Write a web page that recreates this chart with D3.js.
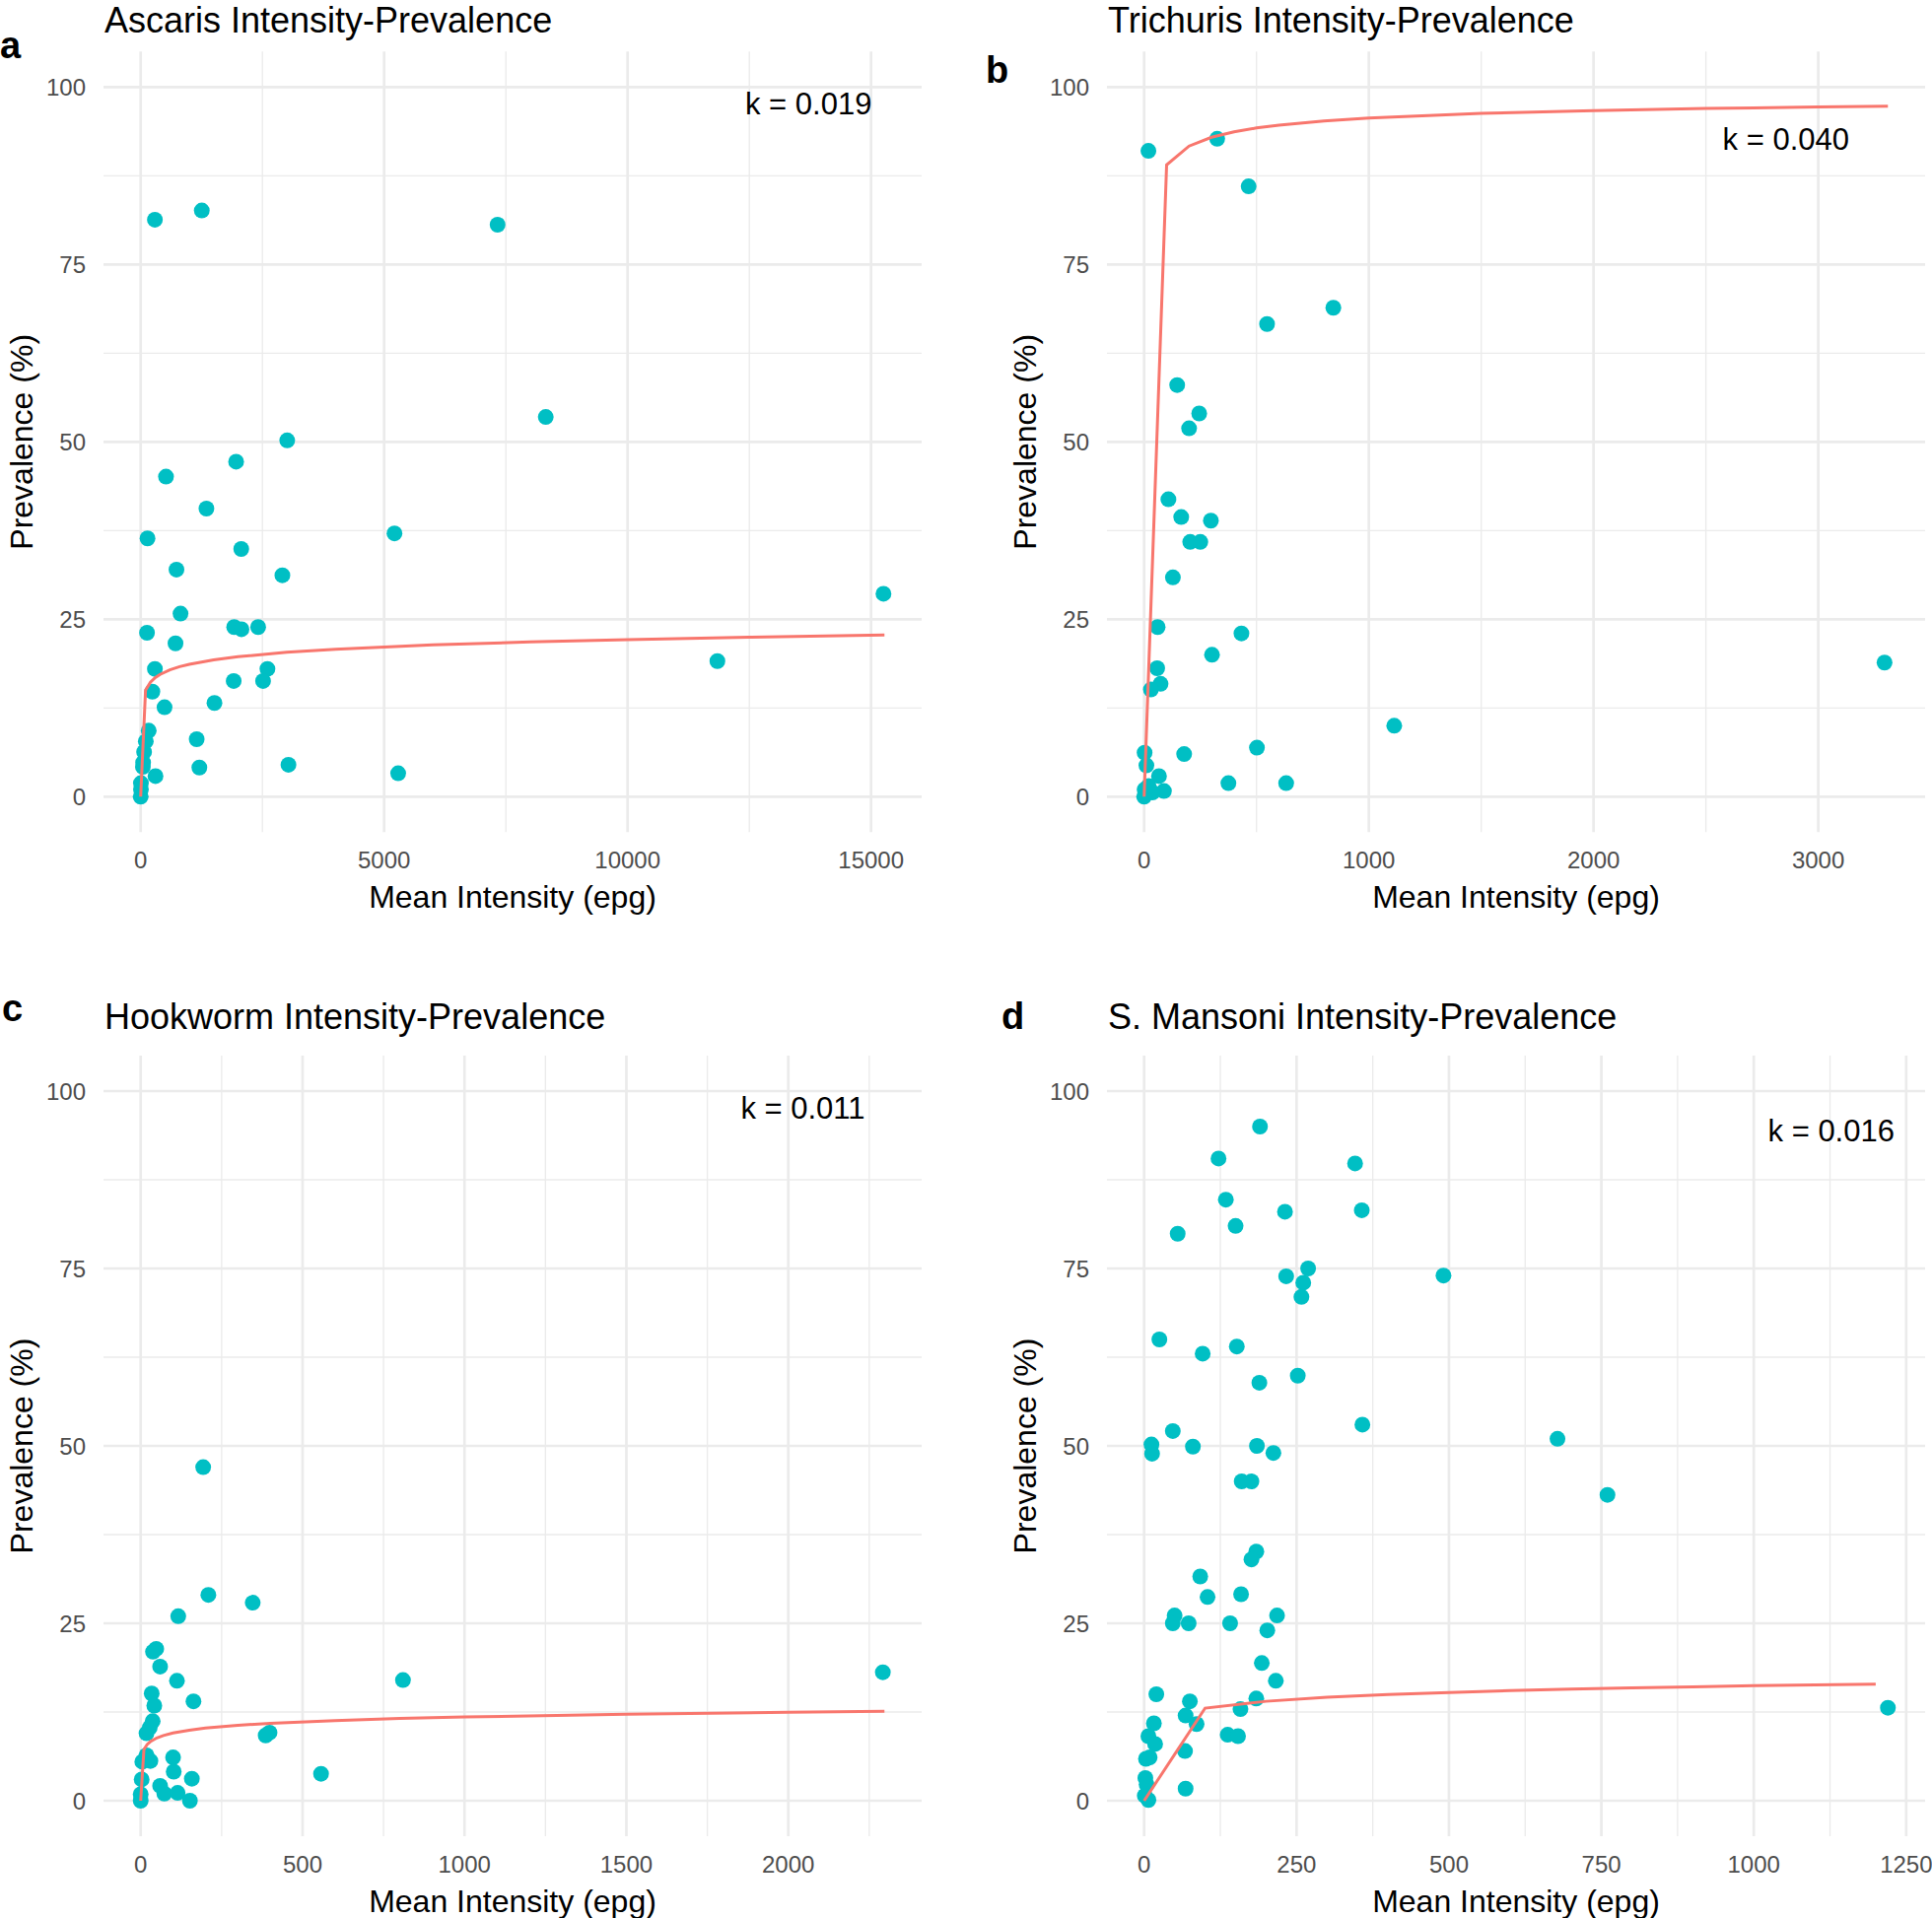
<!DOCTYPE html>
<html>
<head>
<meta charset="utf-8">
<script src="https://cdn.jsdelivr.net/npm/d3@7"></script>
<style>
  body { margin: 0; background: #fff; }
  svg { display: block; }
</style>
</head>
<body>
<div id="chart"></div>
<script>
// Intensity-prevalence scatter plots (4 panels)

// Colors
const colorPoint = "#00BFC4";
const colorCurve = "#F8766D";
const colorGrid = "#EBEBEB";
const colorTick = "#4D4D4D";

// Data: [mean intensity (epg), prevalence (%)]
const prevalenceTicks = [0, 25, 50, 75, 100];

const ascarisTicks = [0, 5000, 10000, 15000];
const ascarisPoints = [[292,81.3],[1255,82.6],[7330,80.6],[8319,53.5],[3009,50.2],[1960,47.2],[520,45.1],[1350,40.6],
  [5212,37.1],[140,36.4],[2065,34.9],[735,32.0],[2910,31.2],[15255,28.6],[818,25.8],[1920,23.9],[2070,23.6],
  [2412,23.9],[130,23.1],[715,21.6],[11844,19.1],[292,18.0],[2603,18.0],[1910,16.3],[2513,16.3],[240,14.8],
  [1515,13.2],[490,12.6],[165,9.3],[1150,8.1],[105,7.8],[70,6.3],[50,4.8],[45,4.2],[1205,4.1],[3035,4.5],
  [304,2.9],[5288,3.3],[5,1.9],[5,1.0],[0,0]];
const ascarisCurve = [[0,0],[100,15.02],[200,16.14],[300,16.78],[400,17.23],[600,17.87],[800,18.32],[1000,18.66],
  [1500,19.29],[2000,19.73],[3000,20.34],[4000,20.78],[6000,21.38],[8000,21.81],[10000,22.14],[12500,22.47],[15275,22.77]];
const ascarisK = ["k = 0.019", 13715, 97.7];

const trichurisTicks = [0, 1000, 2000, 3000];
const trichurisPoints = [[19,91.0],[325,92.7],[465,86.0],[842,68.9],[547,66.6],[147,58.0],[245,54.0],[200,51.9],
  [108,41.9],[165,39.4],[297,38.9],[205,35.9],[250,35.9],[128,30.9],[60,23.9],[433,23.0],[302,20.0],[3295,18.9],
  [58,18.1],[73,15.9],[30,15.1],[1113,10.0],[2,6.2],[178,6.0],[502,6.9],[10,4.4],[375,1.9],[632,1.9],[66,2.9],
  [88,0.8],[37,0.6],[0,0],[2,1.0],[20,1.5]];
const trichurisCurve = [[0,0],[100,89.03],[200,91.68],[300,92.92],[400,93.69],[500,94.23],[600,94.64],[800,95.22],
  [1000,95.63],[1500,96.28],[2000,96.69],[2500,96.97],[3000,97.18],[3310,97.29]];
const trichurisK = ["k = 0.040", 2856, 92.7];

const hookwormTicks = [0, 500, 1000, 1500, 2000];
const hookwormPoints = [[193,47.0],[209,29.0],[346,27.9],[116,26.0],[48,21.4],[38,21.0],[60,18.9],[112,16.9],
  [810,17.0],[2292,18.1],[34,15.1],[163,14.0],[42,13.4],[37,11.2],[28,10.3],[18,9.5],[386,9.2],[398,9.6],
  [18,6.4],[100,6.1],[5,5.5],[30,5.6],[102,4.1],[557,3.8],[158,3.1],[3,3.0],[60,2.1],[73,1.0],[114,1.1],
  [0,0.9],[152,0],[0,0]];
const hookwormCurve = [[0,0],[10,7.22],[20,7.93],[30,8.33],[50,8.85],[70,9.18],[100,9.54],[150,9.94],[200,10.23],
  [300,10.63],[400,10.91],[600,11.30],[800,11.59],[1000,11.80],[1500,12.19],[2000,12.47],[2297,12.61]];
const hookwormK = ["k = 0.011", 2045, 97.7];

const mansoniTicks = [0, 250, 500, 750, 1000, 1250];
const mansoniPoints = [[190,95.0],[122,90.5],[346,89.8],[134,84.7],[231,83.0],[357,83.2],[150,81.0],[55,79.9],
  [269,75.0],[491,74.0],[233,73.9],[261,73.0],[258,71.0],[25,65.0],[152,64.0],[96,63.0],[252,59.9],[189,58.9],
  [358,53.0],[678,51.0],[47,52.1],[12,50.2],[13,48.9],[80,49.9],[185,50.0],[212,49.0],[160,45.0],[176,45.0],
  [760,43.1],[184,35.1],[176,34.0],[92,31.6],[104,28.7],[159,29.1],[50,26.1],[47,25.0],[73,25.0],[141,25.0],
  [218,26.1],[202,24.0],[193,19.4],[216,16.9],[1220,13.1],[184,14.4],[20,15.0],[75,14.0],[68,12.0],[158,12.9],
  [86,10.8],[16,10.9],[137,9.3],[154,9.1],[7,9.1],[18,8.0],[67,7.0],[9,6.1],[3,5.9],[2,3.2],[4,2.3],[68,1.7],
  [1,0.7],[7,0.1]];
const mansoniCurve = [[0,0],[100,13.05],[200,14.01],[300,14.57],[400,14.96],[500,15.26],[600,15.51],[700,15.72],
  [800,15.90],[900,16.04],[1000,16.20],[1100,16.32],[1200,16.44]];
const mansoniK = ["k = 0.016", 1127, 94.5];

// Layout
const width = 1960, height = 1946;
const panelW = 830, panelH = 792;

const panels = [
  {letter: "a", title: "Ascaris Intensity-Prevalence", points: ascarisPoints, curve: ascarisCurve,
   ticks: ascarisTicks, k: ascarisK, left: 105, top: 52.3, ty: 33, lx: 0, ly: 59},
  {letter: "b", title: "Trichuris Intensity-Prevalence", points: trichurisPoints, curve: trichurisCurve,
   ticks: trichurisTicks, k: trichurisK, left: 1123, top: 52.3, ty: 33, lx: 1000, ly: 84},
  {letter: "c", title: "Hookworm Intensity-Prevalence", points: hookwormPoints, curve: hookwormCurve,
   ticks: hookwormTicks, k: hookwormK, left: 105, top: 1071, ty: 1043.5, lx: 2, ly: 1036},
  {letter: "d", title: "S. Mansoni Intensity-Prevalence", points: mansoniPoints, curve: mansoniCurve,
   ticks: mansoniTicks, k: mansoniK, left: 1123, top: 1071, ty: 1043.5, lx: 1016, ly: 1044}
];

const svg = d3.select("#chart")
  .append("svg")
    .attr("width", width)
    .attr("height", height)
    .attr("viewBox", [0, 0, width, height])
    .style("font-family", "'Liberation Sans', Arial, sans-serif");

// minor breaks halfway between major ones, kept inside the domain
function minorBreaks(ticks, domain) {
  const step = ticks[1] - ticks[0];
  const out = [];
  for (let v = ticks[0] - step / 2; v <= ticks[ticks.length - 1] + step; v += step) {
    if (v >= domain[0] && v <= domain[1]) out.push(v);
  }
  return out;
}

panels.forEach(p => {
  const right = p.left + panelW, bottom = p.top + panelH;
  const xMax = d3.max([...p.points, ...p.curve], d => d[0]);

  // ggplot-like 5% expansion
  const x = d3.scaleLinear()
    .domain([-0.05 * xMax, 1.05 * xMax])
    .range([p.left, right]);
  const y = d3.scaleLinear()
    .domain([-5, 105])
    .range([bottom, p.top]);

  const g = svg.append("g");

  // grid
  const grid = g.append("g").attr("stroke", colorGrid).attr("fill", "none");
  grid.selectAll(".xminor")
    .data(minorBreaks(p.ticks, x.domain()))
    .join("line")
      .attr("x1", d => x(d)).attr("x2", d => x(d))
      .attr("y1", p.top).attr("y2", bottom)
      .attr("stroke-width", 1.35);
  grid.selectAll(".yminor")
    .data(minorBreaks(prevalenceTicks, y.domain()))
    .join("line")
      .attr("y1", d => y(d)).attr("y2", d => y(d))
      .attr("x1", p.left).attr("x2", right)
      .attr("stroke-width", 1.35);
  grid.append("g").selectAll("line")
    .data(p.ticks.filter(d => d <= x.domain()[1]))
    .join("line")
      .attr("x1", d => x(d)).attr("x2", d => x(d))
      .attr("y1", p.top).attr("y2", bottom)
      .attr("stroke-width", 2.7);
  grid.append("g").selectAll("line")
    .data(prevalenceTicks)
    .join("line")
      .attr("y1", d => y(d)).attr("y2", d => y(d))
      .attr("x1", p.left).attr("x2", right)
      .attr("stroke-width", 2.7);

  // tick labels
  g.append("g")
    .attr("fill", colorTick)
    .attr("font-size", "24px")
    .attr("text-anchor", "middle")
  .selectAll("text")
  .data(p.ticks.filter(d => d <= x.domain()[1]))
  .join("text")
    .attr("x", d => x(d))
    .attr("y", bottom + 28)
    .attr("dy", "0.36em")
    .text(d => d);

  g.append("g")
    .attr("fill", colorTick)
    .attr("font-size", "24px")
    .attr("text-anchor", "end")
  .selectAll("text")
  .data(prevalenceTicks)
  .join("text")
    .attr("x", p.left - 18)
    .attr("y", d => y(d))
    .attr("dy", "0.36em")
    .text(d => d);

  // axis titles
  g.append("text")
    .attr("x", (p.left + right) / 2)
    .attr("y", bottom + 76.5)
    .attr("font-size", "32px")
    .attr("text-anchor", "middle")
    .attr("fill", "#000")
    .text("Mean Intensity (epg)");

  g.append("text")
    .attr("transform", `translate(${p.left - 72},${(p.top + bottom) / 2}) rotate(-90)`)
    .attr("font-size", "32px")
    .attr("text-anchor", "middle")
    .attr("fill", "#000")
    .text("Prevalence (%)");

  // plot title and panel letter
  g.append("text")
    .attr("x", p.left + 1)
    .attr("y", p.ty)
    .attr("font-size", "36px")
    .attr("fill", "#000")
    .text(p.title);

  g.append("text")
    .attr("x", p.lx)
    .attr("y", p.ly)
    .attr("font-size", "38px")
    .attr("font-weight", "bold")
    .attr("fill", "#000")
    .text(p.letter);

  // points
  g.append("g")
    .attr("fill", colorPoint)
  .selectAll("circle")
  .data(p.points)
  .join("circle")
    .attr("cx", d => x(d[0]))
    .attr("cy", d => y(d[1]))
    .attr("r", 8);

  // fitted curve
  g.append("path")
    .datum(p.curve)
    .attr("fill", "none")
    .attr("stroke", colorCurve)
    .attr("stroke-width", 3)
    .attr("d", d3.line().x(d => x(d[0])).y(d => y(d[1])));

  // k annotation
  g.append("text")
    .attr("x", x(p.k[1]))
    .attr("y", y(p.k[2]))
    .attr("dy", "0.36em")
    .attr("font-size", "31px")
    .attr("text-anchor", "middle")
    .attr("fill", "#000")
    .text(p.k[0]);
});
</script>
</body>
</html>
